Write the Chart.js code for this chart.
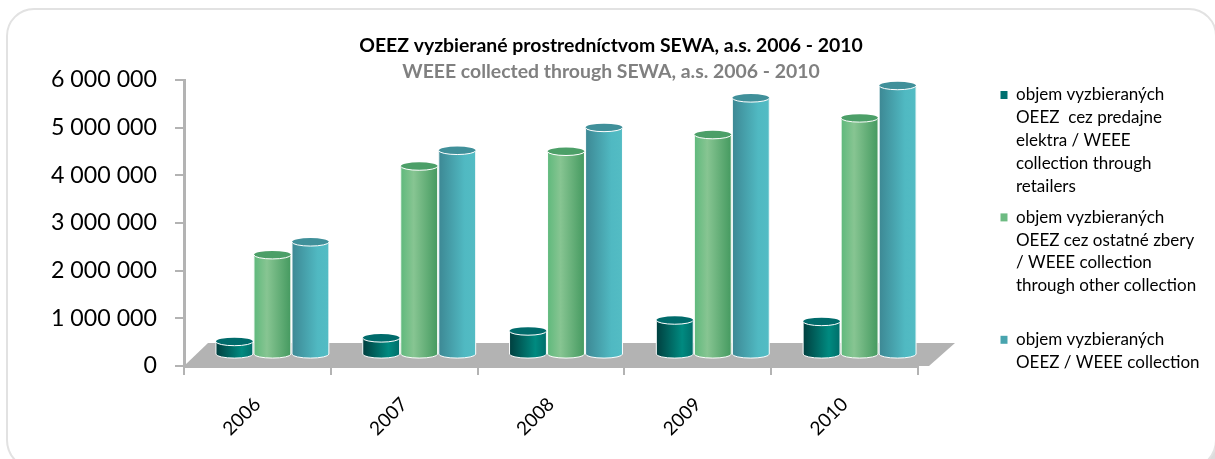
<!DOCTYPE html>
<html>
<head>
<meta charset="utf-8">
<title>OEEZ SEWA 2006 - 2010</title>
<script src="https://cdn.jsdelivr.net/npm/chart.js@4"></script>
<style>
    html, body { margin: 0; padding: 0; background: #fff; }
    #wrap { position: relative; width: 1215px; height: 459px; overflow: hidden; }
    #corner { position: absolute; right: 0; bottom: 0; width: 24px; height: 28px; background: #dcdcdc; }
    #card { position: absolute; left: 6px; top: 8px; width: 1207px; height: 458px; background: #fff; border: 2px solid #e2e2e2; border-radius: 28px 28px 30px 30px; }
    canvas { position: absolute; left: 0; top: 0; }
</style>
</head>
<body>
<div id="wrap">
    <div id="corner"></div>
    <div id="card"></div>
    <canvas id="chart" width="1215" height="459"></canvas>
</div>
<script>
// ── Data ─────────────────────────────────────────────────────────────────────
const years    = ['2006', '2007', '2008', '2009', '2010'];
const retail   = [510000, 585000, 730000, 960000, 930000];
const other    = [2330000, 4190000, 4500000, 4850000, 5200000];
const total    = [2600000, 4520000, 5000000, 5620000, 5880000];
const yTicks   = [0, 1000000, 2000000, 3000000, 4000000, 5000000, 6000000];
const floorBase = 250000;   // columns stand on the 3D floor, not on the axis line

const retailLabel = ['objem vyzbieraných', 'OEEZ  cez predajne', 'elektra / WEEE', 'collection through', 'retailers'];
const otherLabel  = ['objem vyzbieraných', 'OEEZ cez ostatné zbery', '/ WEEE collection', 'through other collection', ''];
const totalLabel  = ['objem vyzbieraných', 'OEEZ / WEEE collection'];

const FONT = 'Lato, sans-serif';
const GRAY = '#b3b3b3';

// Column looks: horizontal gradient stops + colour of the top cap
const looks = [
    { cap: '#006b6b', stops: [[0, '#003f3f'], [0.7, '#008a80'], [1, '#006e6a']] },
    { cap: '#4c9f68', stops: [[0, '#5fb97c'], [0.35, '#87c592'], [1, '#459a60']] },
    { cap: '#40909a', stops: [[0, '#3d8894'], [0.7, '#50b9c2'], [1, '#53bcc4']] }
];

// ── 3D look: floor, cylinder bodies and caps ─────────────────────────────────
const columns3d = {
    id: 'columns3d',
    afterInit(chart) {
        // Reserve a fixed strip for the legend so the plot ends where it should
        const fit = chart.legend.fit;
        chart.legend.fit = function () {
            fit.call(this);
            this.width = 297;
        };
    },
    afterLayout(chart) {
        chart.legend.left = 992;
        chart.legend.top = 78;
        // Titles are centred on the card, not on the layout box
        chart.boxes.filter(b => b.options && b.options.position === 'top' && b.options.text).forEach(b => {
            b.left = 7;
            b.right = 1215;
        });
    },
    beforeDatasetsDraw(chart) {
        const { ctx, chartArea: a } = chart;
        ctx.save();
        ctx.fillStyle = GRAY;
        ctx.beginPath();
        ctx.moveTo(a.left, a.bottom);
        ctx.lineTo(a.left + 24, a.bottom - 23);
        ctx.lineTo(a.right + 37, a.bottom - 23);
        ctx.lineTo(a.right + 11, a.bottom);
        ctx.closePath();
        ctx.fill();
        // Columns sit deeper than the axis ticks
        ctx.translate(15, 0);
    },
    afterDatasetDraw(chart, args) {
        const { ctx } = chart;
        const look = looks[args.index];
        args.meta.data.forEach(bar => {
            const { x, y, base, width } = bar.getProps(['x', 'y', 'base', 'width'], true);
            const l = x - width / 2, rx = width / 2, ry = 4;
            const grad = ctx.createLinearGradient(l, 0, l + width, 0);
            look.stops.forEach(s => grad.addColorStop(s[0], s[1]));

            // Body with rounded bottom
            ctx.beginPath();
            ctx.moveTo(l, y);
            ctx.lineTo(l, base);
            ctx.ellipse(x, base, rx, ry, 0, Math.PI, 0, true);
            ctx.lineTo(l + width, y);
            ctx.closePath();
            ctx.fillStyle = grad;
            ctx.fill();
            ctx.strokeStyle = '#fff';
            ctx.lineWidth = 1;
            ctx.stroke();

            // Top cap
            ctx.beginPath();
            ctx.ellipse(x, y, rx, ry, 0, 0, Math.PI * 2);
            ctx.fillStyle = look.cap;
            ctx.fill();
            ctx.beginPath();
            ctx.ellipse(x, y, rx, ry, 0, 0, Math.PI);
            ctx.strokeStyle = '#fff';
            ctx.stroke();
        });
    },
    afterDatasetsDraw(chart) {
        chart.ctx.restore();
    }
};

// ── Chart ────────────────────────────────────────────────────────────────────
const ctx = document.getElementById('chart').getContext('2d');

new Chart(ctx, {
    type: 'bar',
    data: {
        labels: years,
        datasets: [
            { label: retailLabel, data: retail, backgroundColor: '#007070' },
            { label: otherLabel, data: other, backgroundColor: '#6dbb82' },
            { label: totalLabel, data: total, backgroundColor: '#48a4ae' }
        ].map(d => ({
            ...d,
            base: floorBase,
            clip: false,
            borderWidth: 0,
            barPercentage: 0.97,
            categoryPercentage: 0.777
        }))
    },
    options: {
        responsive: false,
        animation: false,
        layout: { padding: { top: 36 } },
        plugins: {
            title: {
                display: true,
                text: 'OEEZ vyzbierané prostredníctvom SEWA, a.s. 2006 - 2010',
                color: '#000',
                font: { family: FONT, size: 19.4, weight: 'bold', lineHeight: 1 },
                padding: { top: 0, bottom: 6.6 }
            },
            subtitle: {
                display: true,
                text: 'WEEE collected through SEWA, a.s. 2006 - 2010',
                color: '#808080',
                font: { family: FONT, size: 19.4, weight: 'bold', lineHeight: 1 },
                padding: { top: 0, bottom: -1.4 }
            },
            legend: {
                position: 'right',
                align: 'start',
                onClick: null,
                labels: {
                    boxWidth: 7,
                    boxHeight: 8,
                    padding: 8.5,
                    color: '#000',
                    font: { family: FONT, size: 17, lineHeight: 1.34 }
                }
            },
            tooltip: { enabled: false }
        },
        scales: {
            x: {
                afterFit(s) { s.height = 93; },
                grid: { drawOnChartArea: false, tickLength: 9, color: GRAY, lineWidth: 2 },
                border: { color: GRAY, width: 3 },
                ticks: {
                    color: '#000',
                    padding: 18,
                    minRotation: 45,
                    maxRotation: 45,
                    autoSkip: false,
                    font: { family: FONT, size: 19 }
                }
            },
            y: {
                min: yTicks[0],
                max: yTicks[yTicks.length - 1],
                afterFit(s) { s.width = 184; },
                afterBuildTicks(s) { s.ticks = yTicks.map(v => ({ value: v })); },
                grid: { drawOnChartArea: false, tickLength: 9, color: GRAY, lineWidth: 2 },
                border: { color: GRAY, width: 3 },
                ticks: {
                    color: '#000',
                    padding: 18,
                    font: { family: FONT, size: 23.2 },
                    callback: v => String(v).replace(/\B(?=(\d{3})+(?!\d))/g, ' ')
                }
            }
        }
    },
    plugins: [columns3d]
});
</script>
</body>
</html>
